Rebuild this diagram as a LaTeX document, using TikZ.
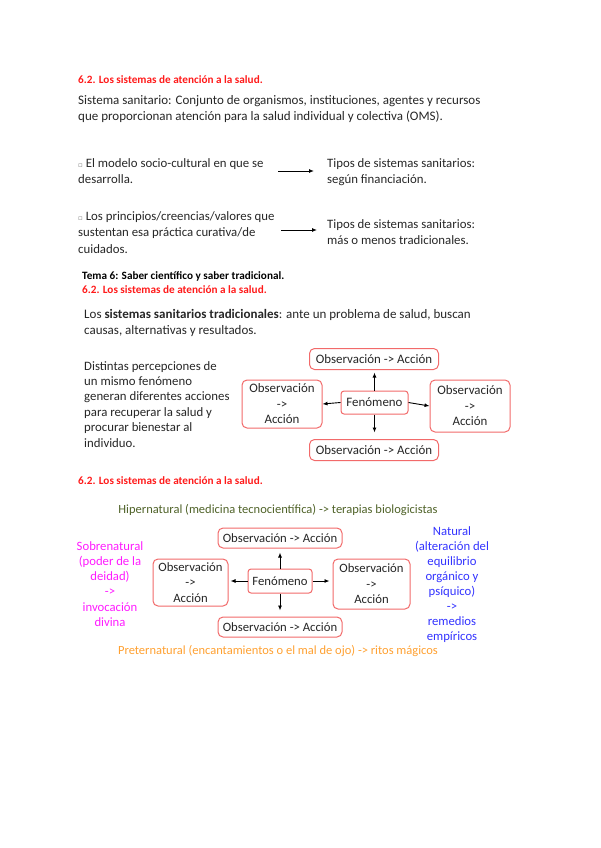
\documentclass[tikz,border=0pt]{standalone}
\usepackage{fontspec}
\setmainfont{Carlito}
\newfontfamily\symfont{DejaVu Sans}
\usetikzlibrary{arrows.meta}
\definecolor{boxred}{HTML}{F26A6A}
\definecolor{titlered}{HTML}{FF1A1A}
\definecolor{txt}{HTML}{262626}
\definecolor{olive}{HTML}{4F6228}
\definecolor{mag}{HTML}{FF1AFF}
\definecolor{natblue}{HTML}{3333FF}
\definecolor{orng}{HTML}{FFA030}
\tikzset{
  x=1pt, y=-1pt,
  every node/.style={inner sep=0pt, text=txt},
  sectitle/.style={anchor=west, font=\fontsize{11.2}{13}\selectfont\bfseries, text=titlered},
  body/.style={anchor=north west, align=left, font=\fontsize{13}{16}\selectfont},
  small/.style={anchor=north west, align=left, font=\fontsize{12.8}{16.5}\selectfont},
  obox/.style={draw=boxred, line width=1pt, rounded corners=5pt, fill=white, align=center, font=\fontsize{12.9}{15.5}\selectfont},
  fbox/.style={draw=boxred, line width=1pt, rounded corners=3pt, fill=white, align=center, font=\fontsize{12.9}{15.5}\selectfont},
  obox2/.style={obox, font=\fontsize{12.7}{15.5}\selectfont},
  fbox2/.style={fbox, font=\fontsize{12.7}{15.5}\selectfont},
  arr/.style={-{Latex[length=5pt,width=4pt]}, line width=0.9pt, draw=black},
}
\newcommand{\bul}{{\symfont\fontsize{7}{7}\selectfont\textcolor{gray}{▫}}}
\begin{document}
\begin{tikzpicture}
\useasboundingbox (0,0) rectangle (600,848);
% Section 1
\node[sectitle] (t1) at (78,80) {6.2. Los sistemas de atención a la salud.};
\node[body] (def) at (78,95) {Sistema sanitario: Conjunto de organismos, instituciones, agentes y recursos\\que proporcionan atención para la salud individual y colectiva (OMS).};
\node[small] (b1) at (78,158) {\bul\ El modelo socio-cultural en que se\\desarrolla.};
\node[small] (r1) at (327,158) {Tipos de sistemas sanitarios:\\según financiación.};
\node[small] (b2) at (78,211) {\bul\ Los principios/creencias/valores que\\sustentan esa práctica curativa/de\\cuidados.};
\node[small] (r2) at (327,219) {Tipos de sistemas sanitarios:\\más o menos tradicionales.};
\coordinate (a1s) at (278,171); \coordinate (a1e) at (314,171);
\coordinate (a2s) at (281,230); \coordinate (a2e) at (317,230);
\draw[arr] (a1s) -- (a1e);
\draw[arr] (a2s) -- (a2e);
% Section 2
\node[anchor=west, font=\fontsize{11.2}{13}\selectfont\bfseries, text=black] (tema) at (82,276) {Tema 6: Saber científico y saber tradicional.};
\node[sectitle] (t2) at (82,290) {6.2. Los sistemas de atención a la salud.};
\node[body] (los) at (84,309) {Los \textbf{sistemas sanitarios tradicionales}: ante un problema de salud, buscan\\causas, alternativas y resultados.};
\node[anchor=north west, align=left, font=\fontsize{12.8}{15.4}\selectfont] (dist) at (84,361) {Distintas percepciones de\\un mismo fenómeno\\generan diferentes acciones\\para recuperar la salud y\\procurar bienestar al\\individuo.};
\node[fbox, minimum width=67pt, minimum height=23pt] (f1) at (374.5,402.5) {Fenómeno};
\node[obox, minimum width=129pt, minimum height=21pt] (u1) at (374,359) {Observación -> Acción};
\node[obox, minimum width=129pt, minimum height=21pt] (d1) at (374,450) {Observación -> Acción};
\node[obox, minimum width=80pt, minimum height=48pt] (l1) at (282,404) {Observación\\->\\Acción};
\node[obox, minimum width=80pt, minimum height=52pt] (r1b) at (470,406) {Observación\\->\\Acción};
\draw[arr] (f1.north) -- ++(0,-18);
\draw[arr] (f1.south) -- ++(0,18);
\draw[arr] (f1.west) -- (l1.east);
\draw[arr] (f1.east) -- (r1b.west);
% Section 3
\node[sectitle] (t3) at (78,481) {6.2. Los sistemas de atención a la salud.};
\node[anchor=center, font=\fontsize{12.5}{14}\selectfont, text=olive] (hip) at (278,510) {Hipernatural (medicina tecnocientífica) -> terapias biologicistas};
\node[fbox2, minimum width=64pt, minimum height=24pt] (f2) at (280,581) {Fenómeno};
\node[obox2, minimum width=124pt, minimum height=20pt] (u2) at (280,538) {Observación -> Acción};
\node[obox2, minimum width=124pt, minimum height=20pt] (d2) at (280,627) {Observación -> Acción};
\node[obox2, minimum width=75pt, minimum height=47pt] (l2) at (190.5,582.5) {Observación\\->\\Acción};
\node[obox2, minimum width=77pt, minimum height=50pt] (r2b) at (371.5,584) {Observación\\->\\Acción};
\draw[arr] (f2.north) -- ++(0,-16);
\draw[arr] (f2.south) -- ++(0,17);
\draw[arr] (f2.west) -- ++(-17,0);
\draw[arr] (f2.east) -- ++(17,0);
\node[anchor=center, align=center, font=\fontsize{12.7}{15.2}\selectfont, text=mag] (sob) at (110,584) {Sobrenatural\\(poder de la\\deidad)\\->\\invocación\\divina};
\node[anchor=center, align=center, font=\fontsize{12.7}{15}\selectfont, text=natblue] (nat) at (452,585) {Natural\\(alteración del\\equilibrio\\orgánico y\\psíquico)\\->\\remedios\\empíricos};
\node[anchor=center, font=\fontsize{12.5}{14}\selectfont, text=orng] (pre) at (278,651) {Preternatural (encantamientos o el mal de ojo) -> ritos mágicos};
\end{tikzpicture}
\end{document}
